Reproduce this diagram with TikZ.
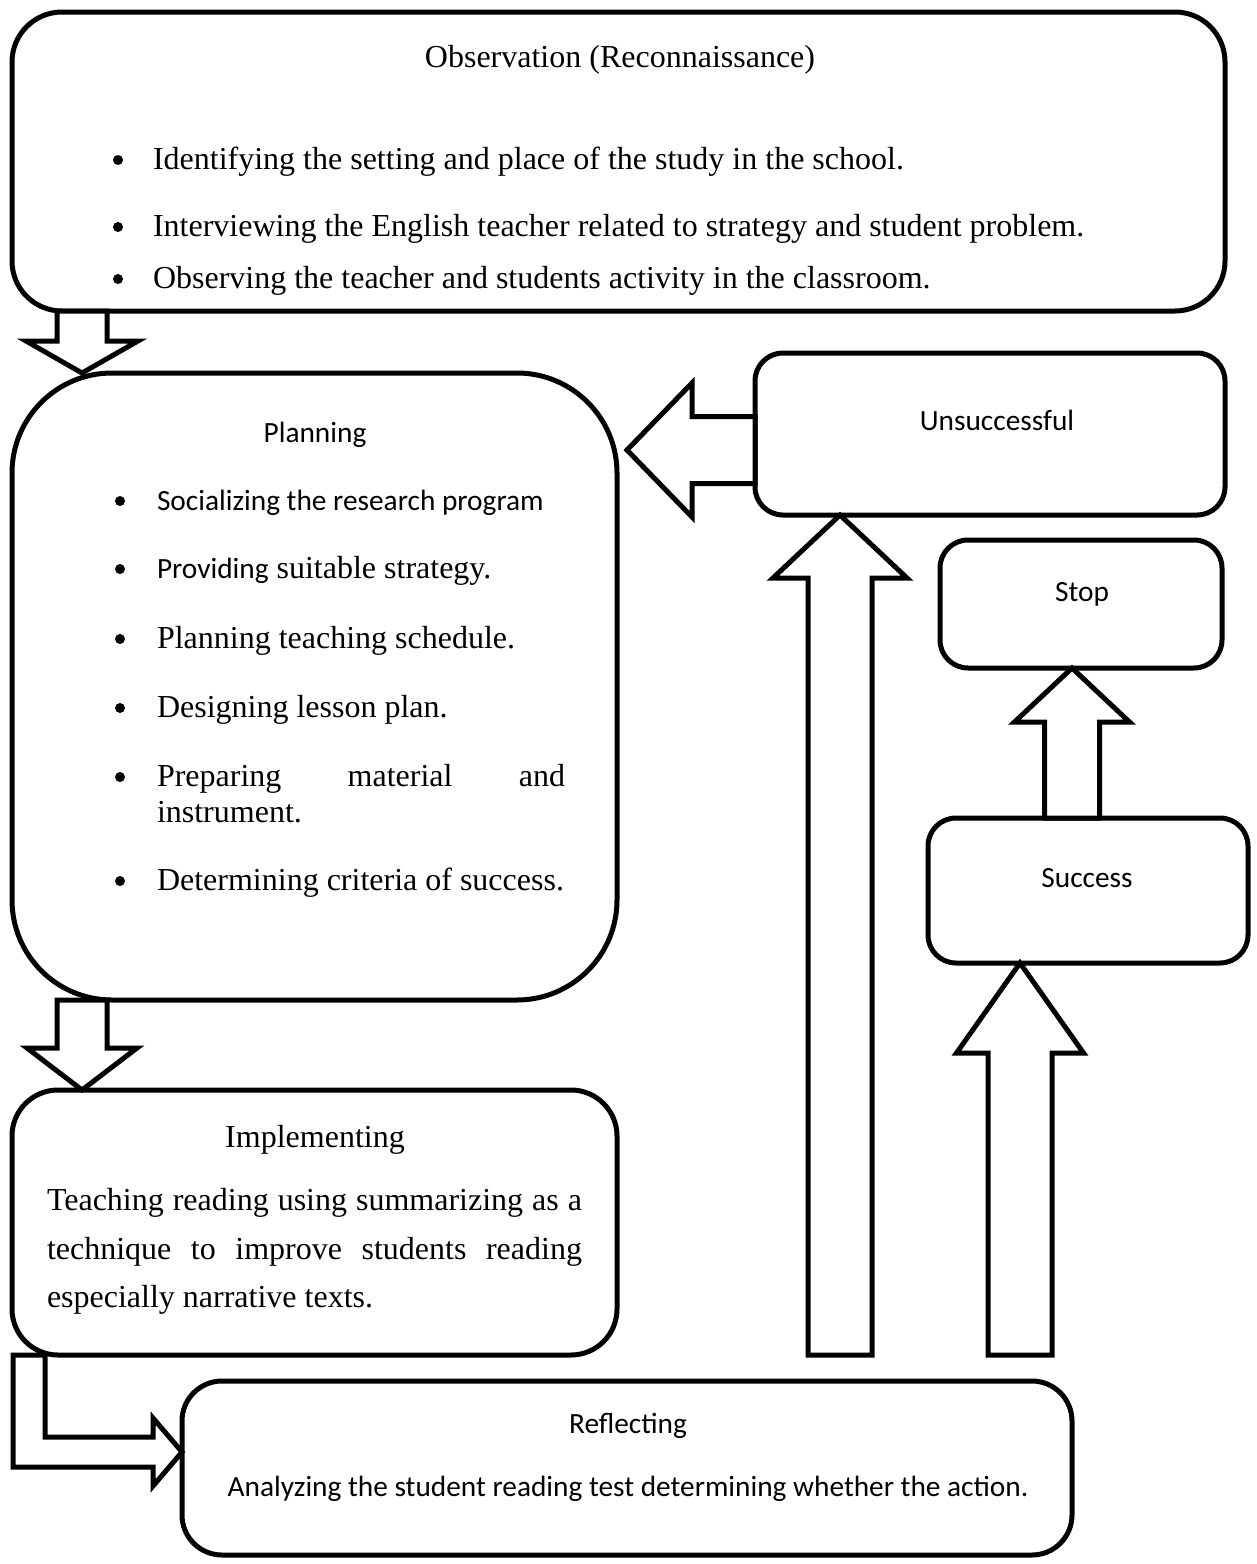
\documentclass[tikz,border=0pt]{standalone}
\usepackage{fontspec}
\setmainfont{Liberation Serif}
\newfontfamily\calib{Carlito}
\usetikzlibrary{calc}
\newcommand\tms{\fontsize{16pt}{19pt}\selectfont}
\newcommand\cbr{\calib\fontsize{14.67pt}{18pt}\selectfont}
% block arrows: tail, tip, shaft half width, head half width, head length
\newcommand\downblk[5]{\draw[blk] let \p1=(#1), \p2=(#2) in
  (\x2-#3,\y1) -- (\x2-#3,\y2+#5) -- (\x2-#4,\y2+#5) -- (\x2,\y2) -- (\x2+#4,\y2+#5) -- (\x2+#3,\y2+#5) -- (\x2+#3,\y1) -- cycle;}
\newcommand\upblk[5]{\draw[blk] let \p1=(#1), \p2=(#2) in
  (\x2-#3,\y1) -- (\x2-#3,\y2-#5) -- (\x2-#4,\y2-#5) -- (\x2,\y2) -- (\x2+#4,\y2-#5) -- (\x2+#3,\y2-#5) -- (\x2+#3,\y1) -- cycle;}
\newcommand\leftblk[5]{\draw[blk] let \p1=(#1), \p2=(#2) in
  (\x1,\y2+#3) -- (\x2+#5,\y2+#3) -- (\x2+#5,\y2+#4) -- (\x2,\y2) -- (\x2+#5,\y2-#4) -- (\x2+#5,\y2-#3) -- (\x1,\y2-#3) -- cycle;}
\tikzset{
  box/.style={draw, line width=2.5pt, outer sep=0pt, inner sep=0pt},
  blk/.style={draw, line width=2.5pt, line join=miter, fill=white},
  tx/.style={inner sep=0pt, outer sep=0pt},
  bul/.style={circle, fill=black, inner sep=0pt, outer sep=0pt, minimum size=5pt},
}
\begin{document}
\begin{tikzpicture}[x=0.5pt,y=-0.5pt]
\useasboundingbox (0,0) rectangle (1257,1564);
% boxes
\node[box, rounded corners=25pt, minimum width=606.5pt, minimum height=149.5pt] (obs) at (618.5,161.5) {};
\node[box, rounded corners=50pt, minimum width=302.5pt, minimum height=313.5pt] (plan) at (314.5,686.5) {};
\node[box, rounded corners=23pt, minimum width=302.5pt, minimum height=132.5pt] (impl) at (314.5,1222.5) {};
\node[box, rounded corners=20pt, minimum width=445pt, minimum height=87pt] (refl) at (627,1468) {};
\node[box, rounded corners=14pt, minimum width=235pt, minimum height=81pt] (unsucc) at (990,434) {};
\node[box, rounded corners=14pt, minimum width=141pt, minimum height=64pt] (stop) at (1081,604) {};
\node[box, rounded corners=14pt, minimum width=160pt, minimum height=72.5pt] (succ) at (1088,890.5) {};
\coordinate (ut1) at (840,1355);
\coordinate (ut2) at (1020,1355);
% arrows
\downblk{obs.south -| 82,0}{plan.north -| 82,0}{12.5pt}{28pt}{16pt}
\downblk{plan.south -| 82,0}{impl.north -| 82,0}{12.5pt}{27.5pt}{21pt}
\leftblk{unsucc.west |- 0,450}{627,450}{16.75pt}{33.5pt}{32.5pt}
\upblk{ut1}{unsucc.south -| 840,0}{16pt}{33.5pt}{31.5pt}
\upblk{succ.north -| 1072,0}{stop.south -| 1072,0}{13.75pt}{28.75pt}{27pt}
\upblk{ut2}{succ.south -| 1020,0}{16pt}{31.75pt}{45pt}
\draw[blk] let \p1=(impl.south -| 13,0), \p2=(refl.west |- 0,1452) in
  (\x1,\y1) -- (\x1+16pt,\y1) -- (\x1+16pt,\y2+7.5pt) -- (\x2-14.5pt,\y2+7.5pt) -- (\x2-14.5pt,\y2+17pt) -- (\x2,\y2)
  -- (\x2-14.5pt,\y2-17pt) -- (\x2-14.5pt,\y2-7.5pt) -- (\x1,\y2-7.5pt) -- cycle;
% observation text
\node[tx, anchor=mid] (obsT) at (620,63) {\tms Observation (Reconnaissance)};
\node[bul] (obd1) at (118,160) {};
\node[tx, anchor=mid west] (ob1) at (153,165) {\tms Identifying the setting and place of the study in the school.};
\node[bul] (obd2) at (118,227) {};
\node[tx, anchor=mid west] (ob2) at (153,232) {\tms Interviewing the English teacher related to strategy and student problem.};
\node[bul] (obd3) at (118,279) {};
\node[tx, anchor=mid west] (ob3) at (153,284) {\tms Observing the teacher and students activity in the classroom.};
% planning text
\node[tx, anchor=mid] (plT) at (315,438) {\cbr Planning};
\node[bul] (pld1) at (120,501) {};
\node[tx, anchor=mid west] (pl1) at (157,506) {\cbr Socializing the research program};
\node[bul] (pld2) at (120,569) {};
\node[tx, anchor=mid west] (pl2) at (157,574) {\tms{\cbr Providing} suitable strategy.};
\node[bul] (pld3) at (120,639) {};
\node[tx, anchor=mid west] (pl3) at (157,644) {\tms Planning teaching schedule.};
\node[bul] (pld4) at (120,708) {};
\node[tx, anchor=mid west] (pl4) at (157,713) {\tms Designing lesson plan.};
\node[bul] (pld5) at (120,777) {};
\node[tx, anchor=mid west] (pl5) at (157,782) {\tms\makebox[204pt][s]{Preparing material and}};
\node[tx, anchor=mid west] (pl5b) at (157,818) {\tms instrument.};
\node[bul] (pld6) at (120,881) {};
\node[tx, anchor=mid west] (pl6) at (157,886) {\tms Determining criteria of success.};
% implementing text
\node[tx, anchor=mid] (imT) at (315,1143) {\tms Implementing};
\node[tx, anchor=mid west] (im1) at (47,1206) {\tms\makebox[267.5pt][s]{Teaching reading using summarizing as a}};
\node[tx, anchor=mid west] (im2) at (47,1255) {\tms\makebox[267.5pt][s]{technique to improve students reading}};
\node[tx, anchor=mid west] (im3) at (47,1303) {\tms especially narrative texts.};
% reflecting text
\node[tx, anchor=mid] (rfT) at (628,1429) {\cbr Reflecting};
\node[tx, anchor=mid] (rf1) at (628,1492) {\cbr Analyzing the student reading test determining whether the action.};
% side boxes
\node[tx, anchor=mid] (unT) at (997,426) {\cbr Unsuccessful};
\node[tx, anchor=mid] (stT) at (1082,597) {\cbr Stop};
\node[tx, anchor=mid] (suT) at (1087,883) {\cbr Success};
\end{tikzpicture}
\end{document}
